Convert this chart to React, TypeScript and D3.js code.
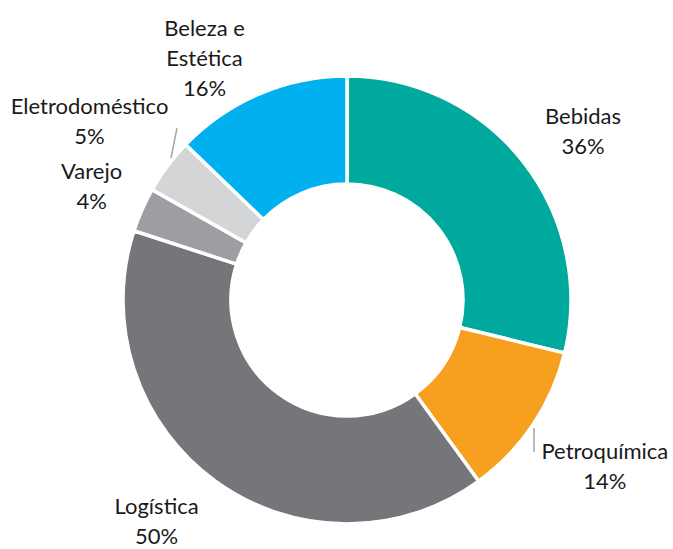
import React from 'react';
import * as d3 from 'd3';

// segment data (clockwise from 12 o'clock)
const categories = ['Bebidas', 'Petroquímica', 'Logística', 'Varejo', 'Eletrodoméstico', 'Beleza e Estética'];
const values = [36, 14, 50, 4, 5, 16];
const labelLines = [['Bebidas'], ['Petroquímica'], ['Logística'], ['Varejo'], ['Eletrodoméstico'], ['Beleza e', 'Estética']];
const palette = ['#00A99D', '#F7A01F', '#75767A', '#9D9EA2', '#D4D5D7', '#00B0EF'];

const width = 673, height = 549;
const cx = 347, cy = 300;
const outerR = 224, innerR = 116;
const labelR = 290;
const lineH = 30;
// fine placement of each label block relative to its arc centroid
const nudges: [number, number][] = [[8, 3], [17, -2], [-20, -21], [10, -4], [-25, -13], [-29, 3]];

const App = () => {
  const pie = d3.pie<number>().value(d => d).sort(null);
  const arcs = pie(values);
  const arc = d3.arc<d3.PieArcDatum<number>>().innerRadius(innerR).outerRadius(outerR);
  const labelArc = d3.arc<d3.PieArcDatum<number>>().innerRadius(labelR).outerRadius(labelR);

  return (
    <svg width={width} height={height} style={{ position: 'absolute', left: 0, top: 0 }}
      fontFamily="Lato, 'Noto Sans', sans-serif" fontSize={22}>
      <rect width={width} height={height} fill="#fff" />
      <g transform={`translate(${cx},${cy})`}>
        {arcs.map((a, i) => (
          <path key={categories[i]} d={arc(a) || ''} fill={palette[i]} stroke="#fff" strokeWidth={3.5} />
        ))}
        {/* leader lines */}
        <line x1={177 - cx} y1={128 - cy} x2={171 - cx} y2={158 - cy} stroke="#A6A6A6" strokeWidth={1.5} />
        <line x1={534 - cx} y1={428 - cy} x2={534 - cx} y2={452 - cy} stroke="#A6A6A6" strokeWidth={1.5} />
        {arcs.map((a, i) => {
          const [x, y] = labelArc.centroid(a);
          const lx = x + nudges[i][0], ly = y + nudges[i][1];
          const lines = [...labelLines[i], `${values[i]}%`];
          return (
            <text key={'l' + i} x={lx} y={ly} textAnchor="middle" fill="#1A1A1A">
              {lines.map((t, j) => (
                <tspan key={j} x={lx} y={ly + j * lineH}>{t}</tspan>
              ))}
            </text>
          );
        })}
      </g>
    </svg>
  );
};

export default App;
